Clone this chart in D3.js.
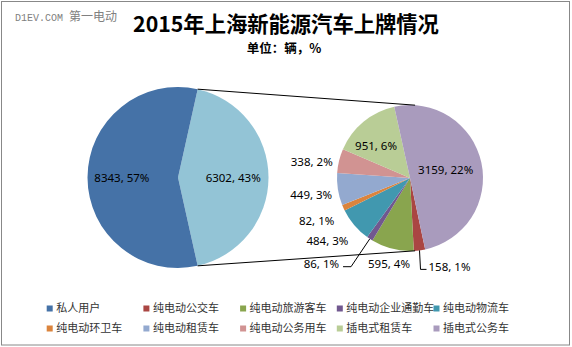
<!DOCTYPE html>
<html><head><meta charset="utf-8">
<script src="https://cdn.jsdelivr.net/npm/d3@7"></script>
<style>html,body{margin:0;padding:0;background:#fff;}svg{display:block;}</style>
</head><body>
<svg id="chart" width="572" height="347"></svg>
<script>
// ---- data ----
const categories = ['私人用户','纯电动公交车','纯电动旅游客车','纯电动企业通勤车','纯电动物流车','纯电动环卫车','纯电动租赁车','纯电动公务用车','插电式租赁车','插电式公务车'];
const values = [8343,158,595,86,484,82,449,338,951,3159];
const colors = ['#4572A7','#AA4643','#89A54E','#71588F','#4198AF','#DB843D','#93A9CF','#D19392','#B9CD96','#A99BBD'];
const otherColor = '#93C4D6';
const secondPieFrom = 1; // categories from this index go to the second pie
const titleText = '2015年上海新能源汽车上牌情况';
const subtitleText = '单位：辆，%';

// ---- layout ----
const W = 572, H = 347;
const L = {cx: 178, cy: 177.5, r: 90.5};
const R = {cx: 410, cy: 178, r: 73};
const secondStartDeg = 168;
const deg = Math.PI / 180;
const fontLbl = "'Noto Sans', 'Liberation Sans', sans-serif";
const fontCJK = "'Noto Sans CJK SC', sans-serif";

const svg = d3.select('#chart');
svg.append('rect').attr('x',1.5).attr('y',1.5).attr('width',W-4).attr('height',H-3.5)
  .attr('fill','#fff').attr('stroke','#888').attr('stroke-width',1);

// watermark
const wm = svg.append('text').attr('x',15).attr('y',21).attr('fill','#808080');
wm.append('tspan').attr('font-family',"'Liberation Mono', monospace").attr('font-size',10).text('D1EV.COM ');
wm.append('tspan').attr('font-family',fontCJK).attr('font-size',12).text('第一电动');

// titles
svg.append('text').attr('x',286).attr('y',32).attr('text-anchor','middle')
  .attr('font-family',fontCJK).attr('font-weight','bold').attr('font-size',21.3).attr('fill','#000').text(titleText);
svg.append('text').attr('x',284).attr('y',53).attr('text-anchor','middle')
  .attr('font-family',fontCJK).attr('font-weight','bold').attr('font-size',12.5).attr('fill','#000').text(subtitleText);

const total = d3.sum(values);
const otherVal = d3.sum(values.slice(secondPieFrom));
const pct = v => Math.round(v / total * 100) + '%';
const lblText = v => `${v}, ${pct(v)}`;

// ---- first pie ----
const firstData = [{name:'其他', value: otherVal, color: otherColor}]
  .concat(categories.slice(0, secondPieFrom).map((c,i)=>({name:c, value: values[i], color: colors[i]})));
const otherSpan = otherVal / total * 2 * Math.PI;
const s1 = Math.PI/2 - otherSpan/2;
const pie1 = d3.pie().sort(null).value(d=>d.value).startAngle(s1).endAngle(s1 + 2*Math.PI);
const arcs1 = pie1(firstData);
const arcL = d3.arc().innerRadius(0).outerRadius(L.r);
const g1 = svg.append('g').attr('transform',`translate(${L.cx},${L.cy})`);
g1.selectAll('path').data(arcs1).join('path').attr('d',arcL).attr('fill',d=>d.data.color);

// ---- second pie ----
const secondData = categories.slice(secondPieFrom).map((c,i)=>({name:c, value: values[i+secondPieFrom], color: colors[i+secondPieFrom]}));
const s2 = secondStartDeg * deg;
const pie2 = d3.pie().sort(null).value(d=>d.value).startAngle(s2).endAngle(s2 + 2*Math.PI);
const arcs2 = pie2(secondData);
const arcR = d3.arc().innerRadius(0).outerRadius(R.r);
const g2 = svg.append('g').attr('transform',`translate(${R.cx},${R.cy})`);
g2.selectAll('path').data(arcs2).join('path').attr('d',arcR).attr('fill',d=>d.data.color);

// ---- connectors ----
const polar = (c, rad, a) => [c.cx + rad*Math.sin(a), c.cy - rad*Math.cos(a)];
const oth = arcs1[0];
const connTop = [polar(L, L.r, oth.startAngle), polar(R, R.r, 4*deg)];
const connBot = [polar(L, L.r, oth.endAngle), polar(R, R.r, 176*deg)];
[connTop, connBot].forEach(p => svg.append('line')
  .attr('x1',p[0][0]).attr('y1',p[0][1]).attr('x2',p[1][0]).attr('y2',p[1][1])
  .attr('stroke','#000').attr('stroke-width',1));

// ---- labels ----
const labelLayout = {
  '私人用户': {mode:'in', rf:0.62},
  '其他': {mode:'in', rf:0.61},
  '插电式公务车': {mode:'in', rf:0.5},
  '插电式租赁车': {mode:'in', rf:0.64, da:-7},
  '纯电动公务用车': {mode:'out', nx:-2, ny:4},
  '纯电动租赁车': {mode:'out', nx:-1, ny:4},
  '纯电动环卫车': {mode:'out', nx:-6, ny:8},
  '纯电动物流车': {mode:'out', nx:-7, ny:8},
  '纯电动旅游客车': {mode:'out', nx:3, ny:4},
  '纯电动企业通勤车': {mode:'leader', ex:-18.7, ey:27.8, tail:-8},
  '纯电动公交车': {mode:'leader', ex:1, ey:19, tail:6}
};
const FS = 11.5;
const lblG = svg.append('g').attr('font-family',fontLbl).attr('font-size',FS).attr('fill','#000');
function place(c, a, d) {
  const lay = labelLayout[d.data.name] || {mode:'in', rf:0.5};
  const mid = (a.startAngle + a.endAngle)/2;
  const txt = lblText(d.data.value);
  if (lay.mode === 'in') {
    const p = polar(c, c.r*lay.rf, mid + (lay.da||0)*deg);
    lblG.append('text').attr('x',p[0]).attr('y',p[1]).attr('dy','0.36em').attr('text-anchor','middle').text(txt);
  } else if (lay.mode === 'out') {
    const t = lblG.append('text').attr('text-anchor','middle').attr('dy','0.36em').text(txt);
    const w = t.node().getComputedTextLength(), h = 13;
    const p = polar(c, c.r + 5, mid);
    t.attr('x', p[0] + Math.sin(mid)*w/2 + lay.nx).attr('y', p[1] - Math.cos(mid)*h/2 + lay.ny);
  } else {
    const p = polar(c, c.r, mid);
    const e = [p[0] + lay.ex, p[1] + lay.ey];
    const end = [e[0] + lay.tail, e[1]];
    lblG.append('path').attr('d', d3.line()([p, e, end])).attr('fill','none').attr('stroke','#000').attr('stroke-width',1);
    const left = lay.tail < 0;
    lblG.append('text').attr('x', end[0] + (left ? -4 : 2)).attr('y', e[1] - 3).attr('dy','0.36em')
      .attr('text-anchor', left ? 'end' : 'start').text(txt);
  }
}
arcs1.forEach(a => place(L, a, a));
arcs2.forEach(a => place(R, a, a));

// ---- legend ----
const legG = svg.append('g').attr('font-family',fontCJK).attr('font-size',11).attr('fill','#333');
categories.forEach((c,i) => {
  const col = i % 5, row = Math.floor(i / 5);
  const x = 46.7 + col*96.7, y = 308.5 + row*20;
  legG.append('rect').attr('x',x).attr('y',y-3).attr('width',6).attr('height',6).attr('fill',colors[i]);
  legG.append('text').attr('x',x+9.5).attr('y',y).attr('dy','0.36em').text(c);
});
</script>
</body></html>
